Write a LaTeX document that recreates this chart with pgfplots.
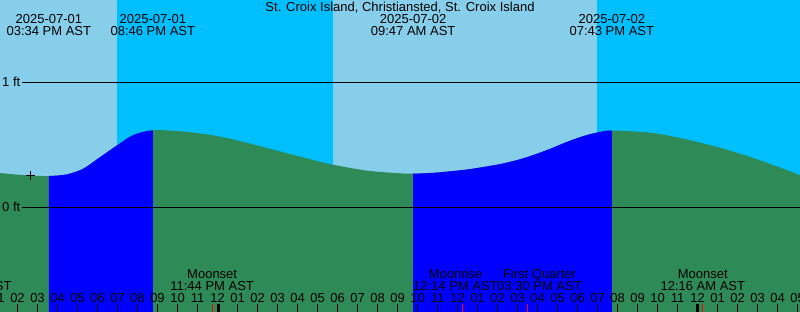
\documentclass[border=0pt]{standalone}
\usepackage{fontspec}
\setmainfont{Liberation Sans}
\usepackage{pgfplots}
\pgfplotsset{compat=1.18}
\usepgfplotslibrary{fillbetween}
\definecolor{daysky}{HTML}{87CEEB}
\definecolor{nightsky}{HTML}{00BFFF}
\definecolor{rising}{HTML}{0000FF}
\definecolor{falling}{HTML}{2E8B57}
\newcommand{\lf}{\fontsize{13bp}{12bp}\selectfont}
\begin{document}
\begin{tikzpicture}[every node/.append style={font=\lf, text=black}]
\begin{axis}[
  at={(0,0)}, anchor=south west,
  scale only axis, width=800bp, height=312bp,
  xmin=13.125, xmax=53.125, ymin=-0.8376, ymax=1.6584,
  axis line style={draw=none},
  axis on top,
  ytick=\empty,
  xtick={14,...,53},
  xticklabels={02,03,04,05,06,07,08,09,10,11,12,01,02,03,04,05,06,07,08,09,10,11,12,01,02,03,04,05,06,07,08,09,10,11,12,01,02,03,04,05},
  xtick pos=bottom, major tick length=0pt,
  xticklabel style={anchor=base, yshift=10bp, inner sep=0pt, font=\lf},
  clip=false,
]
% day / night background
\addplot[fill=daysky, draw=none] coordinates {(13.125,-0.8376) (18.985,-0.8376) (18.985,1.6584) (13.125,1.6584)} -- cycle;
\addplot[fill=nightsky, draw=none] coordinates {(18.985,-0.8376) (29.785,-0.8376) (29.785,1.6584) (18.985,1.6584)} -- cycle;
\addplot[fill=daysky, draw=none] coordinates {(29.785,-0.8376) (42.985,-0.8376) (42.985,1.6584) (29.785,1.6584)} -- cycle;
\addplot[fill=nightsky, draw=none] coordinates {(42.985,-0.8376) (53.125,-0.8376) (53.125,1.6584) (42.985,1.6584)} -- cycle;
% tide curve (ft)
\addplot[name path=tide, draw=none, smooth] coordinates {
(13.125,0.2744) (14.385,0.256) (15.567,0.2504) (16.485,0.264) (17.285,0.3088)
(18.135,0.4024) (18.985,0.496) (19.785,0.578) (20.767,0.616) (22.285,0.606)
(23.985,0.570) (25.635,0.509) (27.285,0.440) (28.985,0.370) (29.785,0.340)
(31.485,0.293) (33.135,0.2715) (33.783,0.2688) (34.8,0.276) (35.635,0.288)
(36.5,0.303) (37.285,0.322) (38.135,0.346) (38.985,0.378) (39.785,0.418)
(40.635,0.468) (41.485,0.524) (42.3,0.570) (42.985,0.598) (43.717,0.614)
(45.635,0.5968) (47.285,0.5488) (48.985,0.4824) (50.635,0.4024) (52.285,0.3088)
(53.125,0.256)};
\addplot[name path=bottom, draw=none] coordinates {(13.125,-0.8376) (53.125,-0.8376)};
\addplot[falling] fill between[of=tide and bottom, on layer=main];
\addplot[rising] fill between[of=tide and bottom, soft clip={domain=15.567:20.767}, on layer=main];
\addplot[rising] fill between[of=tide and bottom, soft clip={domain=33.783:43.717}, on layer=main];
% level lines
\addplot[black, line width=1bp] coordinates {(14.225,1) (53.125,1)};
\addplot[black, line width=1bp] coordinates {(14.225,0) (53.125,0)};
\node[anchor=west, inner sep=0pt] at (axis cs:13.225,1) {1 ft};
\node[anchor=west, inner sep=0pt] at (axis cs:13.225,0) {0 ft};
% current-time marker
\addplot[only marks, mark=+, mark size=4.5bp, black, mark options={line width=1bp}] coordinates {(14.625,0.258)};
% hour tick marks
\addplot[only marks, mark=|, mark size=4bp, black, mark options={line width=1bp}] coordinates {
(14,-0.8056) (15,-0.8056) (16,-0.8056) (17,-0.8056) (18,-0.8056) (19,-0.8056) (20,-0.8056)
(21,-0.8056) (22,-0.8056) (23,-0.8056) (24,-0.8056) (25,-0.8056) (26,-0.8056) (27,-0.8056)
(28,-0.8056) (29,-0.8056) (30,-0.8056) (31,-0.8056) (32,-0.8056) (33,-0.8056) (34,-0.8056)
(35,-0.8056) (36,-0.8056) (37,-0.8056) (38,-0.8056) (39,-0.8056) (40,-0.8056) (41,-0.8056)
(42,-0.8056) (43,-0.8056) (44,-0.8056) (45,-0.8056) (46,-0.8056) (47,-0.8056) (48,-0.8056)
(49,-0.8056) (50,-0.8056) (51,-0.8056) (52,-0.8056) (53,-0.8056)};
% midnight marks
\addplot[only marks, mark=|, mark size=4bp, black, mark options={line width=3bp}] coordinates {(24.03,-0.8056) (48.0,-0.8056)};
% moon-event marks
\addplot[only marks, mark=|, mark size=4bp, red, mark options={line width=1bp}] coordinates {(23.733,-0.8056) (36.233,-0.8056) (39.5,-0.8056) (48.267,-0.8056)};
\node[anchor=base, inner sep=0pt] at (axis cs:13,-0.7576) {01};
% title and tide-event labels
\node[anchor=base, inner sep=0pt] at (axis cs:33.125,1.5624) {St. Croix Island, Christiansted, St. Croix Island};
\node[anchor=base, inner sep=0pt] at (axis cs:15.567,1.4664) {2025-07-01};
\node[anchor=base, inner sep=0pt] at (axis cs:15.567,1.3704) {03:34 PM AST};
\node[anchor=base, inner sep=0pt] at (axis cs:20.767,1.4664) {2025-07-01};
\node[anchor=base, inner sep=0pt] at (axis cs:20.767,1.3704) {08:46 PM AST};
\node[anchor=base, inner sep=0pt] at (axis cs:33.783,1.4664) {2025-07-02};
\node[anchor=base, inner sep=0pt] at (axis cs:33.783,1.3704) {09:47 AM AST};
\node[anchor=base, inner sep=0pt] at (axis cs:43.717,1.4664) {2025-07-02};
\node[anchor=base, inner sep=0pt] at (axis cs:43.717,1.3704) {07:43 PM AST};
% moon-event labels
\node[anchor=base, inner sep=0pt] at (axis cs:11.615,-0.5656) {Moonrise};
\node[anchor=base, inner sep=0pt] at (axis cs:11.615,-0.6616) {11:27 AM AST};
\node[anchor=base, inner sep=0pt] at (axis cs:23.733,-0.5656) {Moonset};
\node[anchor=base, inner sep=0pt] at (axis cs:23.733,-0.6616) {11:44 PM AST};
\node[anchor=base, inner sep=0pt] at (axis cs:35.90,-0.5656) {Moonrise};
\node[anchor=base, inner sep=0pt] at (axis cs:35.90,-0.6616) {12:14 PM AST};
\node[anchor=base, inner sep=0pt] at (axis cs:40.10,-0.5656) {First Quarter};
\node[anchor=base, inner sep=0pt] at (axis cs:40.10,-0.6616) {03:30 PM AST};
\node[anchor=base, inner sep=0pt] at (axis cs:48.267,-0.5656) {Moonset};
\node[anchor=base, inner sep=0pt] at (axis cs:48.267,-0.6616) {12:16 AM AST};
\end{axis}
\pgfresetboundingbox
\useasboundingbox (0,0) rectangle (800bp,312bp);
\end{tikzpicture}
\end{document}
